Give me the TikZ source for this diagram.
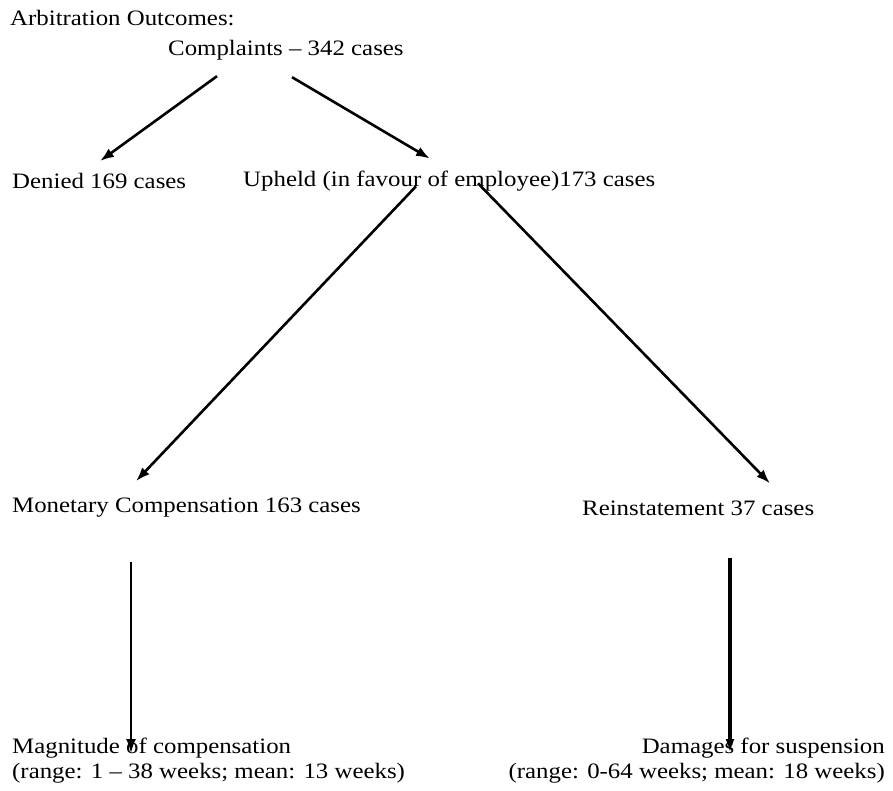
\documentclass[tikz,border=0pt]{standalone}
\usepackage{fontspec}
\setmainfont[FakeStretch=1.13]{Liberation Serif}
\usetikzlibrary{arrows.meta, positioning}

\begin{document}
\begin{tikzpicture}[x=1pt, y=-1pt, >={Latex[length=14pt,width=10pt]},
  lbl/.style={inner sep=0pt, font=\fontsize{22}{25}\selectfont},
  arr/.style={->, line width=2.6pt}]
  \useasboundingbox (0,0) rectangle (893,790);
  % title and root
  \node[lbl, anchor=west] (ttl) at (10,18) {Arbitration Outcomes:};
  \node[lbl, anchor=west] (cmp) at (168,50) {Complaints -- 342 cases};
  % first level
  \node[lbl, anchor=west] (den) at (12,181) {Denied 169 cases};
  \node[lbl, anchor=west] (uph) at (243,181) {Upheld (in favour of employee)173 cases};
  % second level
  \node[lbl, anchor=west] (mon) at (12,508) {Monetary Compensation 163 cases};
  \node[lbl, anchor=west] (rei) at (582,508) {Reinstatement 37 cases};
  % outcomes
  \node[lbl, anchor=north west, align=left] (mag) at (12,738)
    {Magnitude of compensation\\(range: 1 -- 38 weeks; mean: 13 weeks)};
  \node[lbl, anchor=north east, align=right] (dam) at (885,738)
    {Damages for suspension\\(range: 0-64 weeks; mean: 18 weeks)};
  % arrows
  \draw[arr] ([xshift=49pt,yshift=-16pt]cmp.south west) -- ([xshift=88pt,yshift=12pt]den.north west);
  \draw[arr] ([xshift=124pt,yshift=-17pt]cmp.south west) -- ([xshift=187pt,yshift=12pt]uph.north west);
  \draw[arr] ([xshift=173pt,yshift=5pt]uph.south west) -- ([xshift=124pt,yshift=17pt]mon.north west);
  \draw[arr] ([xshift=235pt,yshift=8pt]uph.south west) -- ([xshift=188pt,yshift=17pt]rei.north west);
  \draw[arr, line width=1.8pt] ([xshift=119pt,yshift=-44pt]mon.south west) -- ([xshift=119pt,yshift=-15pt]mag.north west);
  \draw[arr, line width=3.6pt, >={Latex[length=14pt,width=9pt]}] ([xshift=148pt,yshift=-42pt]rei.south west) -- ([xshift=-155pt,yshift=-15pt]dam.north east);
\end{tikzpicture}
\end{document}
